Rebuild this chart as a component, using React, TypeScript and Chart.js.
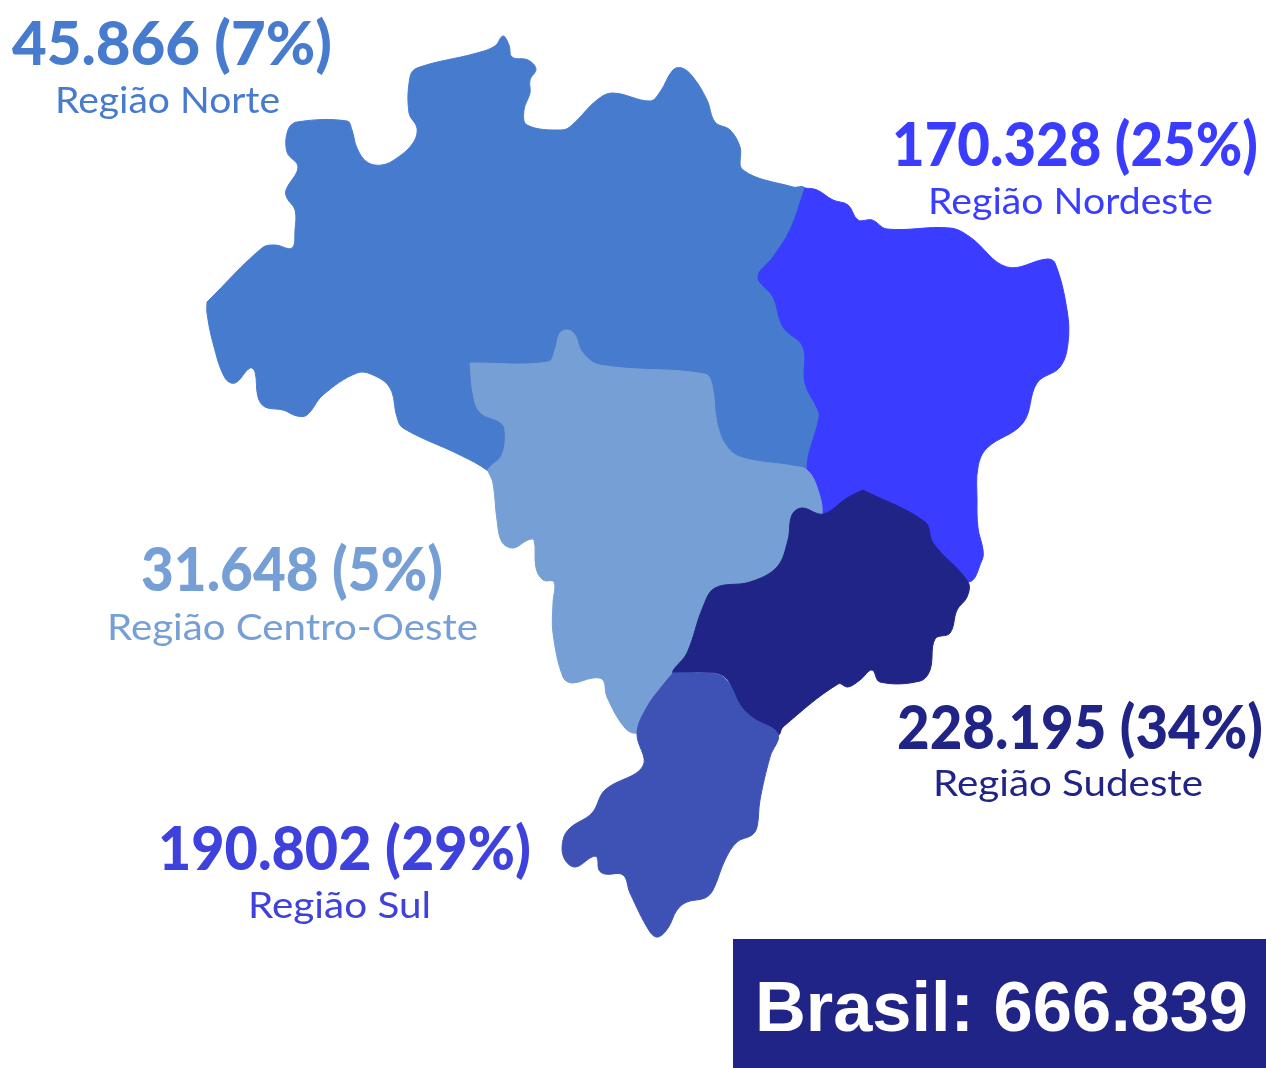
import React, { useEffect, useRef } from "react";
import { Chart, registerables } from "chart.js";

Chart.register(...registerables);

type Pt = [number, number];

// Região outlines (map units = picture units)
const norteOutline: Pt[] = [
  [207,302],[262,248],[275,245],[292,248],[295,230],[295,210],[287,198],[286,190],[298,167],[287,152],[288,130],[297,122],
  [347,121],[352,130],[357,148],[367,162],[382,165],[397,158],[413,143],[417,128],[409,113],[410,77],[417,68],[477,53],
  [495,46],[503,36],[509,45],[512,57],[528,60],[536,69],[530,80],[530,93],[524,110],[527,125],[562,130],[572,125],
  [597,100],[613,93],[650,101],[660,92],[673,70],[682,68],[693,77],[707,100],[715,122],[730,130],[740,147],[743,170],
  [793,187],[805,188],[840,240],[830,350],[830,440],[800,485],[650,520],[520,500],[488,471],[460,455],[403,428],[397,417],
  [390,388],[373,375],[357,373],[323,395],[307,415],[297,416],[283,410],[265,407],[258,397],[255,372],[250,368],[235,383],
  [225,378],[213,343],[207,313],[207,302],
];
const nordesteOutline: Pt[] = [
  [805,188],[817,190],[833,200],[848,205],[858,220],[872,220],[887,229],[950,228],[970,237],[1007,267],[1047,259],[1055,263],
  [1067,310],[1068,343],[1060,367],[1037,383],[1023,423],[987,448],[978,467],[977,500],[978,528],[983,550],[982,560],[968,582],
  [900,560],[840,530],[821,510],[817,488],[807,468],[819,418],[818,410],[805,383],[803,347],[783,327],[773,297],[758,277],
  [773,257],[790,230],[805,188],
];
const centroOesteOutline: Pt[] = [
  [470,363],[548,362],[555,350],[560,333],[568,330],[575,335],[582,352],[600,365],[705,374],[712,385],[717,423],[727,447],
  [743,458],[793,466],[807,470],[817,487],[822,515],[810,560],[760,620],[700,680],[660,720],[637,733],[625,728],[607,697],
  [603,680],[593,678],[572,683],[563,677],[553,633],[553,603],[554,582],[543,580],[536,568],[534,540],[528,540],[513,548],
  [502,542],[497,520],[493,483],[488,470],[490,467],[502,455],[505,430],[500,422],[480,412],[473,393],[470,363],
];
const sudesteOutline: Pt[] = [
  [863,490],[925,522],[933,543],[968,582],[967,597],[957,610],[950,633],[935,639],[930,670],[920,681],[880,682],[872,670],
  [860,680],[848,687],[838,684],[783,727],[778,735],[757,722],[738,703],[725,677],[700,672],[673,673],[687,653],[703,607],
  [715,588],[750,582],[777,567],[788,540],[792,515],[802,508],[823,514],[847,498],[863,490],
];
const sulOutline: Pt[] = [
  [673,673],[697,673],[720,675],[730,685],[740,705],[753,718],[778,734],[770,757],[760,800],[757,827],[752,835],[737,842],
  [725,860],[713,890],[705,898],[687,902],[677,910],[668,928],[658,937],[650,932],[630,893],[623,875],[605,874],[599,870],
  [597,857],[592,857],[575,867],[564,858],[563,840],[570,828],[592,813],[605,790],[643,766],[637,733],[647,707],[663,685],[673,673],
];

const regionNames = ["Região Norte", "Região Nordeste", "Região Centro-Oeste", "Região Sudeste", "Região Sul"];
const regionValues = ["45.866", "170.328", "31.648", "228.195", "190.802"];
const regionShares = ["7%", "25%", "5%", "34%", "29%"];
const totalLabel = "Brasil: 666.839";

const regionColors = ["#477BCE", "#3A3DFF", "#769FD5", "#202486", "#3E52B6"];
const labelColors = ["#477BCE", "#3A3DFF", "#769FD5", "#202486", "#3F41DC"];
const outlines = [norteOutline, nordesteOutline, centroOesteOutline, sudesteOutline, sulOutline];

// left, right and baseline of each label, in map units
const valueBoxes = [[12,332,65],[892,1258,166],[141,443,591],[897,1263,749],[158,531,870]];
const nameBoxes = [[55,280,113],[928,1213,214],[107,478,640],[933,1203,796],[248,431,918]];

const labelsPlugin = {
  id: "mapLabels",
  afterDatasetsDraw(chart: any) {
    const { ctx, scales } = chart;
    const sx = scales.x, sy = scales.y;
    const put = (t: string, font: string, color: string, box: number[]) => {
      ctx.save();
      ctx.font = font;
      ctx.fillStyle = color;
      ctx.textAlign = "left";
      ctx.textBaseline = "alphabetic";
      const l = sx.getPixelForValue(box[0]);
      const r = sx.getPixelForValue(box[1]);
      const w = ctx.measureText(t).width;
      ctx.translate(l, sy.getPixelForValue(box[2]));
      ctx.scale((r - l) / w, 1);
      ctx.fillText(t, 0, 0);
      ctx.restore();
    };
    regionNames.forEach((n, i) => {
      put(`${regionValues[i]} (${regionShares[i]})`, "900 60px Lato", labelColors[i], valueBoxes[i]);
      put(n, "400 37px Lato", labelColors[i], nameBoxes[i]);
    });
    const bx = sx.getPixelForValue(733), by = sy.getPixelForValue(939);
    ctx.save();
    ctx.fillStyle = "#202486";
    ctx.fillRect(bx, by, sx.getPixelForValue(1266) - bx, sy.getPixelForValue(1068) - by);
    ctx.restore();
    put(totalLabel, "bold 70px 'Liberation Sans'", "#ffffff", [755, 1248, 1031]);
  },
};

export default function App() {
  const ref = useRef<HTMLCanvasElement>(null);
  useEffect(() => {
    document.body.style.margin = "0";
    const chart = new Chart(ref.current!, {
      type: "scatter",
      data: {
        datasets: outlines.map((o, i) => ({
          label: regionNames[i],
          data: o.map(([x, y]) => ({ x, y })),
          showLine: true,
          fill: "shape",
          backgroundColor: regionColors[i],
          borderColor: regionColors[i],
          borderWidth: 1,
          tension: 0.38,
          pointRadius: 0,
          pointHoverRadius: 0,
          order: outlines.length - i,
        })),
      },
      options: {
        animation: false,
        responsive: false,
        maintainAspectRatio: false,
        layout: { padding: 0 },
        events: [],
        plugins: { legend: { display: false }, tooltip: { enabled: false }, title: { display: false } },
        scales: {
          x: { type: "linear", display: false, min: 0, max: 1266 },
          y: { type: "linear", display: false, min: 0, max: 1068, reverse: true },
        },
      },
      plugins: [labelsPlugin],
    } as any);
    return () => chart.destroy();
  }, []);
  return <canvas ref={ref} width={1266} height={1068} style={{ display: "block" }} />;
}
